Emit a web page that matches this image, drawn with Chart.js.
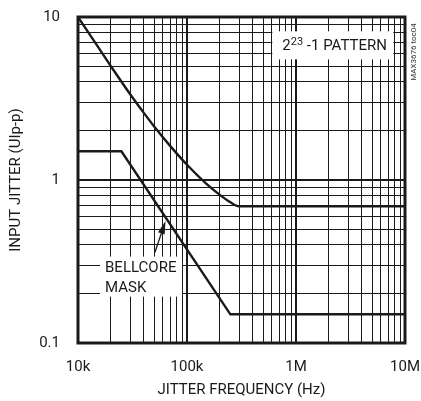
<!DOCTYPE html>
<html>
<head>
<meta charset="utf-8">
<script src="https://cdn.jsdelivr.net/npm/chart.js@4.4.1/dist/chart.umd.min.js"></script>
<style>
  html, body { margin: 0; padding: 0; background: #fff; }
  #wrap { width: 421px; height: 401px; }
</style>
</head>
<body>
<div id="wrap"><canvas id="c"></canvas></div>
<script>
// data
const patternFreq = [10000, 12000, 15000, 20000, 30000, 40000, 50000, 70000, 100000, 150000, 200000, 250000, 300000, 10000000];
const patternJitter = [10, 8.33, 6.67, 5.0, 3.37, 2.59, 2.13, 1.62, 1.24, 0.95, 0.81, 0.73, 0.69, 0.69];
const maskFreq = [10000, 25000, 250000, 10000000];
const maskJitter = [1.5, 1.5, 0.15, 0.15];

const xTicks = [];
[1e4, 1e5, 1e6].forEach(d => { for (let m = 1; m < 10; m++) xTicks.push(d * m); });
xTicks.push(1e7);
const yTicks = [];
[0.1, 1].forEach(d => { for (let m = 1; m < 10; m++) yTicks.push(+(d * m).toFixed(2)); });
yTicks.push(10);

const xLabels = { 10000: '10k', 100000: '100k', 1000000: '1M', 10000000: '10M' };
const yLabels = { 0.1: '0.1', 1: '1', 10: '10' };

const FONT = '"Liberation Sans Narrow", "Arial Narrow", Roboto, sans-serif';
const INK = '#1a1a1a';

function isMajor(v) {
  const l = Math.log10(v);
  return Math.abs(l - Math.round(l)) < 1e-9;
}

const frame = {
  id: 'frame',
  afterDraw(chart) {
    const { ctx, chartArea: a, scales: { x, y } } = chart;
    ctx.save();
    ctx.strokeStyle = INK;
    ctx.lineWidth = 3;
    ctx.strokeRect(a.left, a.top, a.right - a.left, a.bottom - a.top);

    // pattern label box
    const px = x.getPixelForValue(2200000), py = y.getPixelForValue(6.7);
    ctx.fillStyle = '#fff';
    ctx.fillRect(px - 61, py - 14, 121, 28);
    ctx.fillStyle = INK;
    ctx.textBaseline = 'middle';
    ctx.textAlign = 'left';
    ctx.font = '15px ' + FONT;
    let tx = px - 51;
    ctx.fillText('2', tx, py + 1);
    tx += ctx.measureText('2').width;
    ctx.font = '11px ' + FONT;
    ctx.fillText('23', tx, py - 3);
    tx += ctx.measureText('23').width;
    ctx.font = '15px ' + FONT;
    ctx.fillText(' -1 PATTERN', tx, py + 1);

    // bellcore label box
    const bx = x.getPixelForValue(17700), by = y.getPixelForValue(0.29);
    ctx.fillStyle = '#fff';
    ctx.fillRect(bx - 5, by - 11, 82, 40);
    ctx.fillStyle = INK;
    ctx.font = '15px ' + FONT;
    ctx.fillText('BELLCORE', bx, by + 1);
    ctx.fillText('MASK', bx, by + 21);

    // arrow
    const ax0 = x.getPixelForValue(50800), ay0 = y.getPixelForValue(0.36);
    const ax1 = x.getPixelForValue(63500), ay1 = y.getPixelForValue(0.56);
    const ang = Math.atan2(ay1 - ay0, ax1 - ax0);
    ctx.strokeStyle = INK;
    ctx.lineWidth = 1.3;
    ctx.beginPath();
    ctx.moveTo(ax0, ay0);
    ctx.lineTo(ax1 - 8 * Math.cos(ang), ay1 - 8 * Math.sin(ang));
    ctx.stroke();
    ctx.beginPath();
    ctx.moveTo(ax1, ay1);
    ctx.lineTo(ax1 - 13 * Math.cos(ang) + 3.5 * Math.sin(ang), ay1 - 13 * Math.sin(ang) - 3.5 * Math.cos(ang));
    ctx.lineTo(ax1 - 13 * Math.cos(ang) - 3.5 * Math.sin(ang), ay1 - 13 * Math.sin(ang) + 3.5 * Math.cos(ang));
    ctx.closePath();
    ctx.fill();

    // figure id
    ctx.save();
    ctx.translate(a.right + 9, a.top + 35);
    ctx.rotate(-Math.PI / 2);
    ctx.font = '8px ' + FONT;
    ctx.textAlign = 'center';
    ctx.fillStyle = '#333';
    ctx.fillText('MAX3676 toc04', 0, 0);
    ctx.restore();
    ctx.restore();
  }
};

new Chart(document.getElementById('c'), {
  type: 'line',
  data: {
    datasets: [
      {
        label: '2^23-1 pattern',
        data: patternFreq.map((f, i) => ({ x: f, y: patternJitter[i] })),
        borderColor: INK,
        borderWidth: 2.4,
        pointRadius: 0,
        cubicInterpolationMode: 'monotone',
        fill: false
      },
      {
        label: 'Bellcore mask',
        data: maskFreq.map((f, i) => ({ x: f, y: maskJitter[i] })),
        borderColor: INK,
        borderWidth: 2.4,
        pointRadius: 0,
        tension: 0,
        fill: false
      }
    ]
  },
  options: {
    responsive: true,
    maintainAspectRatio: false,
    animation: false,
    layout: { padding: { top: 17, right: 16, left: 0, bottom: 0 } },
    plugins: { legend: { display: false }, tooltip: { enabled: false } },
    scales: {
      x: {
        type: 'logarithmic',
        min: 10000,
        max: 10000000,
        afterBuildTicks: s => { s.ticks = xTicks.map(v => ({ value: v })); },
        afterFit: s => { s.height = 58; s.paddingLeft = 0; s.paddingRight = 0; },
        border: { display: false },
        grid: {
          color: INK,
          drawTicks: false,
          lineWidth: c => (c.tick && isMajor(c.tick.value) ? 2 : 1)
        },
        ticks: {
          autoSkip: false,
          maxRotation: 0,
          padding: 15,
          color: INK,
          font: { family: FONT, size: 15 },
          callback: v => xLabels[v] || ''
        },
        title: {
          display: true,
          text: 'JITTER FREQUENCY (Hz)',
          color: INK,
          font: { family: FONT, size: 15 },
          padding: { top: 0, bottom: 2 }
        }
      },
      y: {
        type: 'logarithmic',
        min: 0.1,
        max: 10,
        afterBuildTicks: s => { s.ticks = yTicks.map(v => ({ value: v })); },
        afterFit: s => { s.width = 78; s.paddingTop = 0; s.paddingBottom = 0; },
        border: { display: false },
        grid: {
          color: INK,
          drawTicks: false,
          lineWidth: c => (c.tick && isMajor(c.tick.value) ? 2 : 1)
        },
        ticks: {
          autoSkip: false,
          padding: 18,
          color: INK,
          font: { family: FONT, size: 15 },
          callback: v => yLabels[+(+v).toFixed(2)] || ''
        },
        title: {
          display: true,
          text: 'INPUT JITTER (UIp-p)',
          color: INK,
          font: { family: FONT, size: 15 },
          padding: { top: 7, bottom: 0 }
        }
      }
    }
  },
  plugins: [frame]
});
</script>
</body>
</html>
